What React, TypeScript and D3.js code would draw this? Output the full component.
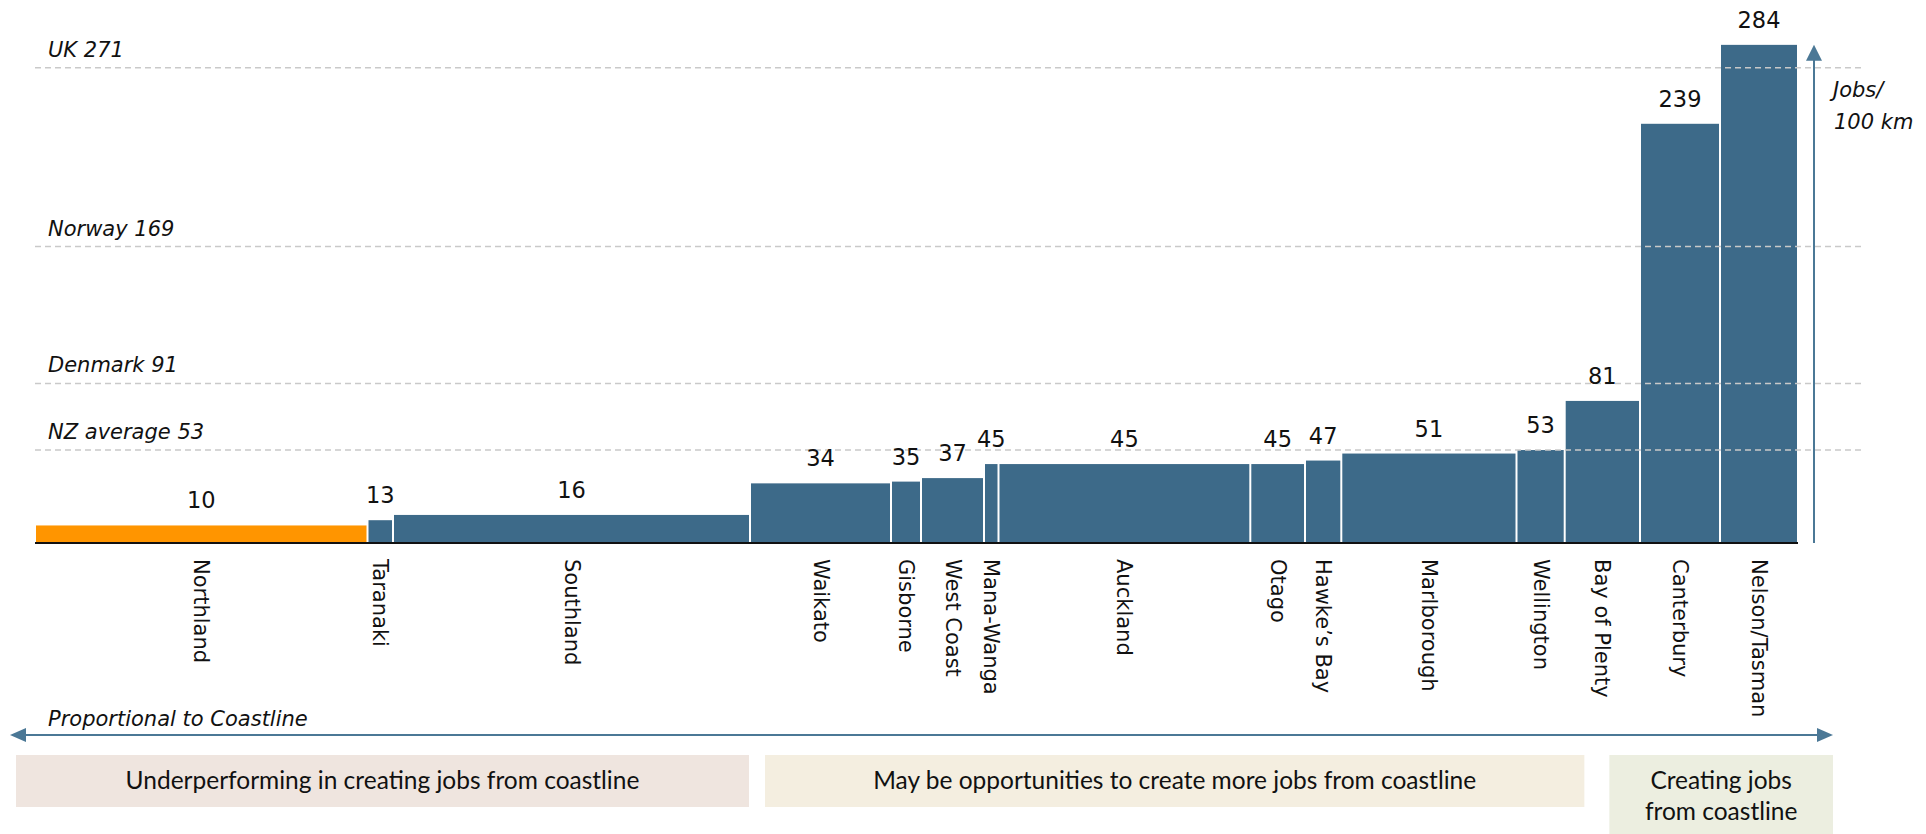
import React from "react";
import * as d3 from "d3";

// ---------- data ----------
const regions = [
  "Northland", "Taranaki", "Southland", "Waikato", "Gisborne", "West Coast",
  "Mana-Wanga", "Auckland", "Otago", "Hawke\u2019s Bay", "Marlborough",
  "Wellington", "Bay of Plenty", "Canterbury", "Nelson/Tasman",
];
// bar widths: proportional to coastline (km)
const coastlineKm = [3325, 255, 3570, 1410, 300, 630, 145, 2518, 547, 363, 1752, 482, 753, 800, 780];
const jobsPer100km = [10, 13, 16, 34, 35, 37, 45, 45, 45, 47, 51, 53, 81, 239, 284];
const highlighted = ["Northland"];

const benchmarkNames = ["UK", "Norway", "Denmark", "NZ average"];
const benchmarkValues = [271, 169, 91, 53];

const bandTexts = [
  ["Underperforming in creating jobs from coastline"],
  ["May be opportunities to create more jobs from coastline"],
  ["Creating jobs", "from coastline"],
];

// ---------- layout ----------
const W = 1926, H = 834;
const X0 = 35, X1 = 1798;
const BASE = 543;
const GRID_RIGHT = 1861;
const AXIS_X = 1814;
const ARROW_Y = 735, ARROW_L = 10, ARROW_R = 1833;
const BOX_TOP = 755;

const BLUE = "#3d6a89";
const ARROW = "#4b7896";
const ORANGE = "#ff9500";
const BOX_COLORS = ["#efe5df", "#f4eee0", "#eceee0"];

export default function App() {
  const total = d3.sum(coastlineKm);
  const x = d3.scaleLinear().domain([0, total]).range([X0, X1]);
  const y = d3.scaleLinear().domain([0, 300]).range([BASE, BASE - 300 * 1.754]);

  const cum = d3.cumsum(coastlineKm);
  const bars = regions.map((r, i) => {
    const s = i === 0 ? 0 : cum[i - 1];
    const e = cum[i];
    return { r, v: jobsPer100km[i], x0: x(s), x1: x(e) };
  });

  const idx = (name: string) => regions.indexOf(name);
  const southEnd = bars[idx("Southland")].x1;
  const bop = bars[idx("Bay of Plenty")];
  const bopMid = (bop.x0 + bop.x1) / 2;
  const boxes = [
    { x0: ARROW_L + 6, x1: southEnd - 1, h: 52 },
    { x0: southEnd + 15, x1: bopMid - 18, h: 52 },
    { x0: bopMid + 7, x1: ARROW_R, h: 80 },
  ];

  const italic = { fontFamily: "DejaVu Sans", fontStyle: "italic" as const, fontSize: 21, fill: "#111" };

  return (
    <svg width={W} height={H} style={{ position: "absolute", left: 0, top: 0, background: "#fff" }}>
      {/* bars */}
      {bars.map((b) => (
        <rect
          key={b.r}
          x={b.x0 + 1}
          y={y(b.v)}
          width={Math.max(0, b.x1 - b.x0 - 2)}
          height={BASE - 1 - y(b.v)}
          fill={highlighted.includes(b.r) ? ORANGE : BLUE}
        />
      ))}

      {/* benchmark lines */}
      {benchmarkValues.map((v, i) => (
        <g key={benchmarkNames[i]}>
          <line x1={X0} x2={GRID_RIGHT} y1={y(v)} y2={y(v)} stroke="#c9c9c9" strokeWidth={1.5} strokeDasharray="6,4" />
          <text x={48} y={y(v) - 11} {...italic}>{`${benchmarkNames[i]} ${v}`}</text>
        </g>
      ))}

      {/* baseline */}
      <line x1={X0} x2={X1} y1={BASE} y2={BASE} stroke="#111" strokeWidth={2} />

      {/* value labels */}
      {bars.map((b) => (
        <text key={b.r + "v"} x={(b.x0 + b.x1) / 2} y={y(b.v) - 17} textAnchor="middle"
          fontFamily="DejaVu Sans" fontSize={22.5} fill="#111">{b.v}</text>
      ))}

      {/* category labels */}
      {bars.map((b) => (
        <text key={b.r + "c"} transform={`translate(${(b.x0 + b.x1) / 2},559) rotate(90)`}
          dominantBaseline="central" fontFamily="DejaVu Sans" fontSize={21} fill="#111">{b.r}</text>
      ))}

      {/* vertical axis arrow */}
      <line x1={AXIS_X} x2={AXIS_X} y1={BASE} y2={58} stroke={ARROW} strokeWidth={2} />
      <path d={`M${AXIS_X},${y(284)} L${AXIS_X - 8},${y(284) + 16} L${AXIS_X + 8},${y(284) + 16} Z`} fill={ARROW} />
      <text x={1833} y={97} {...italic}>Jobs/</text>
      <text x={1834} y={129} {...italic}>100 km</text>

      {/* horizontal arrow */}
      <line x1={ARROW_L + 10} x2={ARROW_R - 10} y1={ARROW_Y} y2={ARROW_Y} stroke={ARROW} strokeWidth={2} />
      <path d={`M${ARROW_L},${ARROW_Y} L${ARROW_L + 16},${ARROW_Y - 7} L${ARROW_L + 16},${ARROW_Y + 7} Z`} fill={ARROW} />
      <path d={`M${ARROW_R},${ARROW_Y} L${ARROW_R - 16},${ARROW_Y - 7} L${ARROW_R - 16},${ARROW_Y + 7} Z`} fill={ARROW} />
      <text x={48} y={726} {...italic}>Proportional to Coastline</text>

      {/* band boxes */}
      {boxes.map((bx, i) => (
        <g key={"box" + i}>
          <rect x={bx.x0} y={BOX_TOP} width={bx.x1 - bx.x0} height={bx.h} fill={BOX_COLORS[i]} />
          {bandTexts[i].map((t, j) => (
            <text key={j} x={(bx.x0 + bx.x1) / 2} y={789 + j * 31} textAnchor="middle"
              fontFamily="Lato" fontSize={24.5} fill="#111">{t}</text>
          ))}
        </g>
      ))}
    </svg>
  );
}
